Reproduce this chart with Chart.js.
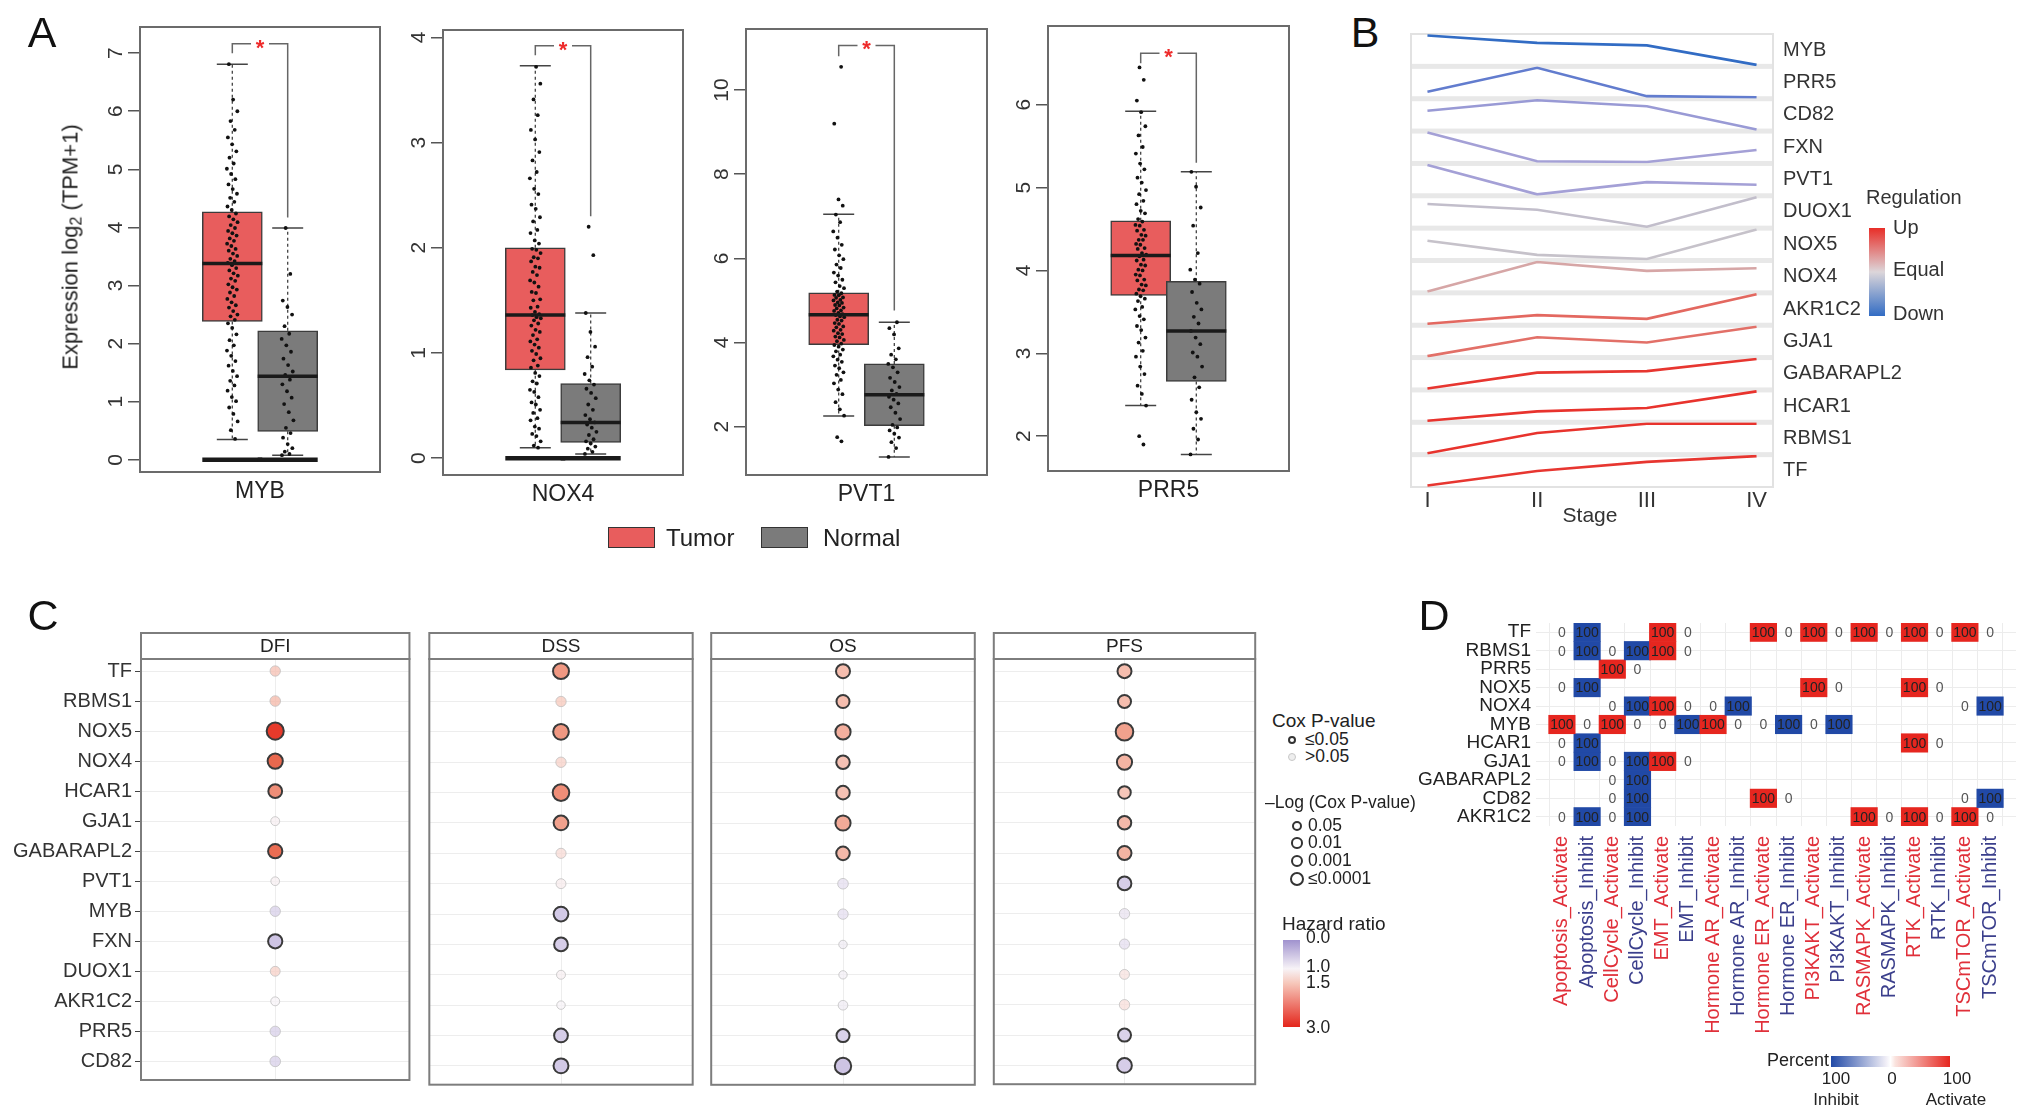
<!DOCTYPE html>
<html>
<head>
<meta charset="utf-8">
<title>Figure</title>
<script src="https://cdn.jsdelivr.net/npm/chart.js@4.4.1/dist/chart.umd.min.js"></script>
<style>
html,body{margin:0;padding:0;background:#fff;}
body{width:2032px;height:1119px;position:relative;overflow:hidden;font-family:"Liberation Sans",Arial,Helvetica,sans-serif;color:#222;}
canvas{position:absolute;display:block;}
.t{position:absolute;white-space:nowrap;line-height:1;}
.sw{position:absolute;box-sizing:border-box;}
</style>
</head>
<body>
<script>
// ================= DATA =================
// ---- Panel A: expression boxplots ----
const aGenes = ['MYB', 'NOX4', 'PVT1', 'PRR5'];
const aGroups = ['Tumor', 'Normal'];
// [whiskerLow, q1, median, q3, whiskerHigh]
const aTumorStats  = [[0.35, 2.38, 3.38, 4.27, 6.81], [0.10, 0.84, 1.36, 2.00, 3.73], [2.25, 3.95, 4.66, 5.18, 7.05], [2.37, 3.70, 4.18, 4.60, 5.92]];
const aNormalStats = [[0.08, 0.49, 1.44, 2.22, 3.99], [0.04, 0.15, 0.34, 0.71, 1.38], [1.28, 2.02, 2.76, 3.49, 4.48], [1.78, 2.66, 3.27, 3.87, 5.19]];
// significance bracket [top, left leg end, right leg end]
const aBracket = [[7.16, 7.0, 4.17], [3.92, 3.83, 2.30], [11.06, 10.8, 4.76], [6.62, 6.5, 5.3]];
const aZeroGenes = ['MYB', 'NOX4'];
const aYTicks = [[0, 1, 2, 3, 4, 5, 6, 7], [0, 1, 2, 3, 4], [2, 4, 6, 8, 10], [2, 3, 4, 5, 6]];
const aYRange = [[-0.21, 7.45], [-0.16, 4.07], [0.85, 11.45], [1.58, 6.95]];
const aMYB_T = [0.36,0.51,0.66,0.79,0.9,1.01,1.08,1.19,1.28,1.36,1.44,1.53,1.62,1.7,1.79,1.88,1.97,2.06,2.16,2.27,2.35,2.41,2.47,2.5,2.56,2.62,2.66,2.71,2.77,2.82,2.88,2.93,2.97,3.02,3.08,3.12,3.17,3.21,3.26,3.3,3.35,3.39,3.42,3.46,3.51,3.55,3.6,3.63,3.68,3.72,3.77,3.81,3.86,3.9,3.94,3.99,4.04,4.09,4.14,4.19,4.24,4.3,4.36,4.44,4.51,4.58,4.66,4.74,4.83,4.92,5.01,5.1,5.2,5.31,5.43,5.55,5.68,5.83,6.0,6.2,6.81];
const aMYB_N = [0.08,0.1,0.14,0.2,0.27,0.38,0.46,0.55,0.68,0.82,0.96,1.07,1.18,1.3,1.38,1.46,1.52,1.63,1.74,1.86,1.97,2.08,2.17,2.3,2.5,2.63,2.74,3.2,3.99];
const aNOX4_T = [0.1,0.12,0.16,0.21,0.23,0.28,0.3,0.36,0.38,0.43,0.46,0.51,0.53,0.58,0.63,0.65,0.71,0.73,0.78,0.81,0.86,0.88,0.93,0.95,0.99,1.02,1.05,1.08,1.11,1.13,1.17,1.2,1.22,1.26,1.28,1.31,1.33,1.34,1.36,1.37,1.39,1.43,1.44,1.5,1.51,1.57,1.58,1.63,1.67,1.69,1.74,1.77,1.81,1.82,1.87,1.9,1.91,1.95,1.98,1.99,2.04,2.07,2.14,2.17,2.25,2.29,2.37,2.41,2.51,2.56,2.66,2.72,2.83,2.91,3.03,3.12,3.26,3.41,3.56,3.72];
const aNOX4_N = [0.04,0.06,0.09,0.11,0.14,0.16,0.18,0.22,0.25,0.29,0.32,0.34,0.37,0.41,0.46,0.51,0.57,0.62,0.66,0.7,0.74,0.8,0.87,0.96,1.06,1.2,1.38,1.93,2.2];
const aPVT1_T = [1.65,1.75,2.26,2.41,2.58,2.77,2.88,3.03,3.11,3.23,3.29,3.39,3.45,3.54,3.59,3.67,3.71,3.79,3.83,3.9,3.94,3.97,4.03,4.06,4.12,4.14,4.2,4.22,4.28,4.3,4.36,4.38,4.44,4.46,4.52,4.54,4.6,4.62,4.65,4.67,4.7,4.75,4.76,4.81,4.83,4.88,4.89,4.94,4.95,5.0,5.01,5.06,5.07,5.12,5.13,5.17,5.21,5.29,5.34,5.43,5.49,5.59,5.66,5.77,5.85,5.98,6.07,6.21,6.32,6.49,6.64,6.86,7.04,7.25,7.4,9.2,10.55];
const aPVT1_N = [1.28,1.49,1.63,1.74,1.83,1.91,1.98,2.04,2.18,2.33,2.46,2.55,2.64,2.71,2.78,2.86,2.94,3.06,3.16,3.29,3.41,3.49,3.6,3.71,3.86,4.19,4.34,4.48];
const aPRR5_T = [1.9,2.0,2.37,2.51,2.61,2.75,2.84,2.96,3.03,3.13,3.19,3.28,3.33,3.41,3.45,3.53,3.56,3.63,3.66,3.69,3.72,3.76,3.77,3.82,3.83,3.88,3.89,3.94,3.95,4.0,4.01,4.06,4.07,4.12,4.13,4.17,4.19,4.21,4.26,4.27,4.31,4.32,4.37,4.37,4.42,4.43,4.48,4.49,4.54,4.55,4.59,4.62,4.69,4.72,4.8,4.84,4.92,4.97,5.06,5.12,5.22,5.29,5.41,5.49,5.63,5.74,5.91,6.05,6.3,6.45];
const aPRR5_N = [1.78,1.96,2.09,2.21,2.29,2.44,2.59,2.71,2.84,2.96,3.01,3.11,3.19,3.27,3.36,3.44,3.53,3.61,3.74,3.84,3.89,4.01,4.21,4.54,4.76,5.01,5.19];
const aTumorPts = [aMYB_T, aNOX4_T, aPVT1_T, aPRR5_T];
const aNormalPts = [aMYB_N, aNOX4_N, aPVT1_N, aPRR5_N];

// ---- Panel B: stage trends (relative level within each gene strip) ----
const bStages = ['I', 'II', 'III', 'IV'];
const bGenes = ['MYB','PRR5','CD82','FXN','PVT1','DUOX1','NOX5','NOX4','AKR1C2','GJA1','GABARAPL2','HCAR1','RBMS1','TF'];
const bMYB = [94.5, 72.4, 64.7, 6.3];
const bPRR5 = [23.6, 95.3, 10.4, 7.1];
const bCD82 = [62.9, 93.8, 76.2, 7.8];
const bFXN = [93.5, 8.6, 6.4, 41.7];
const bPVT1 = [94.3, 6.1, 42.5, 34.7];
const bDUOX1 = [73.0, 56.4, 6.8, 92.8];
const bNOX5 = [59.4, 18.6, 6.5, 91.4];
const bNOX4 = [4.0, 91.0, 64.6, 72.3];
const bAKR1C2 = [4.7, 30.1, 19.1, 91.9];
const bGJA1 = [4.4, 59.5, 44.1, 90.4];
const bGABARAPL2 = [3.0, 49.3, 53.7, 89.0];
const bHCAR1 = [2.6, 30.2, 40.1, 88.6];
const bRBMS1 = [2.3, 61.8, 89.4, 89.4];
const bTF = [3.1, 45.0, 71.5, 88.0];
const bRegulation = [-1, -0.75, -0.5, -0.45, -0.45, -0.05, 0.0, 0.3, 0.65, 0.6, 0.95, 0.97, 0.97, 0.95];

// ---- Panel C: survival bubbles ----
const cFacets = ['DFI', 'DSS', 'OS', 'PFS'];
const cGenes = ['TF','RBMS1','NOX5','NOX4','HCAR1','GJA1','GABARAPL2','PVT1','MYB','FXN','DUOX1','AKR1C2','PRR5','CD82'];
const cHR_DFI = [1.6, 1.7, 2.85, 2.5, 2.1, 1.05, 2.45, 1.05, 0.6, 0.5, 1.4, 1.0, 0.6, 0.6];
const cHR_DSS = [2.0, 1.5, 2.0, 1.4, 2.1, 1.9, 1.3, 1.1, 0.55, 0.6, 1.05, 1.0, 0.6, 0.55];
const cHR_OS  = [1.6, 1.6, 1.75, 1.55, 1.55, 1.8, 1.65, 0.75, 0.75, 0.9, 0.95, 0.9, 0.65, 0.5];
const cHR_PFS = [1.6, 1.6, 1.9, 1.7, 1.5, 1.65, 1.7, 0.6, 0.8, 0.75, 1.2, 1.25, 0.65, 0.6];
const cLogP_DFI = [1.0, 1.1, 3.8, 3.0, 2.4, 0.4, 2.6, 0.3, 1.0, 2.6, 0.8, 0.4, 1.0, 1.1];
const cLogP_DSS = [3.3, 1.0, 3.2, 1.0, 3.6, 2.8, 0.9, 0.8, 2.8, 2.4, 0.4, 0.2, 2.4, 2.9];
const cLogP_OS  = [2.5, 2.1, 3.0, 2.3, 2.3, 3.0, 2.3, 1.1, 1.0, 0.2, 0.15, 0.7, 2.1, 3.5];
const cLogP_PFS = [2.5, 2.1, 4.0, 3.0, 1.9, 2.3, 2.5, 2.4, 1.0, 0.9, 0.8, 1.0, 2.1, 2.8];

// ---- Panel D: pathway heatmap (percent; null = not shown) ----
const dRows = ['TF','RBMS1','PRR5','NOX5','NOX4','MYB','HCAR1','GJA1','GABARAPL2','CD82','AKR1C2'];
const dCols = ['Apoptosis_Activate','Apoptosis_Inhibit','CellCycle_Activate','CellCycle_Inhibit','EMT_Activate','EMT_Inhibit','Hormone AR_Activate','Hormone AR_Inhibit','Hormone ER_Activate','Hormone ER_Inhibit','PI3KAKT_Activate','PI3KAKT_Inhibit','RASMAPK_Activate','RASMAPK_Inhibit','RTK_Activate','RTK_Inhibit','TSCmTOR_Activate','TSCmTOR_Inhibit'];
const n = null;
const dTF        = [0,100,n,n,100,0,n,n,100,0,100,0,100,0,100,0,100,0];
const dRBMS1     = [0,100,0,100,100,0,n,n,n,n,n,n,n,n,n,n,n,n];
const dPRR5      = [n,n,100,0,n,n,n,n,n,n,n,n,n,n,n,n,n,n];
const dNOX5      = [0,100,n,n,n,n,n,n,n,n,100,0,n,n,100,0,n,n];
const dNOX4      = [n,n,0,100,100,0,0,100,n,n,n,n,n,n,n,n,0,100];
const dMYB       = [100,0,100,0,0,100,100,0,0,100,0,100,n,n,n,n,n,n];
const dHCAR1     = [0,100,n,n,n,n,n,n,n,n,n,n,n,n,100,0,n,n];
const dGJA1      = [0,100,0,100,100,0,n,n,n,n,n,n,n,n,n,n,n,n];
const dGABARAPL2 = [n,n,0,100,n,n,n,n,n,n,n,n,n,n,n,n,n,n];
const dCD82      = [n,n,0,100,n,n,n,n,100,0,n,n,n,n,n,n,0,100];
const dAKR1C2    = [0,100,0,100,n,n,n,n,n,n,n,n,100,0,100,0,100,0];
const dValues = [dTF, dRBMS1, dPRR5, dNOX5, dNOX4, dMYB, dHCAR1, dGJA1, dGABARAPL2, dCD82, dAKR1C2];

// ================= HELPERS =================
Chart.defaults.font.family = '"Liberation Sans", Arial, Helvetica, sans-serif';
Chart.defaults.color = '#333';
Chart.defaults.animation = false;
Chart.defaults.responsive = false;
Chart.defaults.plugins.legend.display = false;
Chart.defaults.plugins.tooltip.enabled = false;
const FONT = '"Liberation Sans", Arial, Helvetica, sans-serif';

function mkCanvas(l, t, w, h) {
  const c = document.createElement('canvas');
  c.width = w; c.height = h;
  c.style.left = l + 'px'; c.style.top = t + 'px';
  c.style.width = w + 'px'; c.style.height = h + 'px';
  document.body.appendChild(c);
  return c;
}
function txt(s, x, y, size, align, color, extra) {
  const d = document.createElement('div');
  d.className = 't';
  d.innerHTML = s;
  d.style.fontSize = size + 'px';
  d.style.left = x + 'px';
  d.style.top = y + 'px';
  d.style.color = color || '#222';
  const tx = align === 'c' ? '-50%' : align === 'r' ? '-100%' : '0';
  d.style.transform = 'translate(' + tx + ',-50%)' + (extra || '');
  document.body.appendChild(d);
  return d;
}
function sw(x, y, w, h, css) {
  const d = document.createElement('div');
  d.className = 'sw';
  d.style.left = x + 'px'; d.style.top = y + 'px';
  d.style.width = w + 'px'; d.style.height = h + 'px';
  d.style.cssText += css;
  document.body.appendChild(d);
  return d;
}
function lerp(a, b, t) { return a.map((v, i) => Math.round(v + (b[i] - v) * t)); }
function ramp(stops, v, a) {
  v = Math.max(stops[0][0], Math.min(stops[stops.length - 1][0], v));
  let i = 0;
  while (i < stops.length - 2 && v > stops[i + 1][0]) i++;
  const [v0, c0] = stops[i], [v1, c1] = stops[i + 1];
  const c = lerp(c0, c1, (v - v0) / (v1 - v0));
  return 'rgba(' + c.join(',') + ',' + (a == null ? 1 : a) + ')';
}
const REG_STOPS = [[-1, [50, 108, 196]], [-0.75, [98, 124, 206]], [-0.45, [164, 160, 214]], [0, [198, 194, 202]], [0.3, [214, 166, 166]], [0.6, [226, 112, 104]], [1, [232, 46, 40]]];
function regColor(s) { return ramp(REG_STOPS, s); }
const HR_STOPS = [[0, [160, 146, 206]], [0.5, [206, 196, 228]], [1, [247, 243, 247]], [1.5, [246, 198, 185]], [2, [240, 152, 130]], [2.5, [233, 104, 78]], [3, [228, 38, 28]]];
function hrColor(h, a) { return ramp(HR_STOPS, h, a); }

// ================= PANEL A =================
const A_BOX = [[140, 27, 380, 472], [443, 30, 683, 475], [746, 29, 987, 475], [1048, 26, 1289, 471]];
const TUMOR_FILL = '#e85d5d', NORMAL_FILL = '#7b7b7b';
const BOX_HALF = 30, CAP_HALF = 15.5;
aGenes.forEach((gene, i) => {
  const [bl, bt, br, bb] = A_BOX[i];
  const H = 520, W = br - bl + 110;
  const cv = mkCanvas(bl - 100, 0, W, H);
  const ts = aTumorStats[i], ns = aNormalStats[i];
  const jit = (k, s, w) => ((((k + 1) * 0.6180339887 + s) % 1) - 0.5) * w;
  const pts = aTumorPts[i].map((v, k) => ({x: 1 + jit(k, 0.13, 0.2), y: v}))
    .concat(aNormalPts[i].map((v, k) => ({x: 2 + jit(k, 0.41, 0.22), y: v})));
  const boxes = [[1, ts], [2, ns]];
  new Chart(cv, {
    type: 'scatter',
    data: {datasets: [
      {type: 'scatter', data: pts, pointRadius: 1.9, pointHoverRadius: 1.9, pointBackgroundColor: '#111', pointBorderWidth: 0, order: 0},
      {type: 'bar', data: boxes.map(([x, s]) => ({x: x, y: [s[1], s[3]]})), backgroundColor: [TUMOR_FILL, NORMAL_FILL], borderColor: '#3c3c3c', borderWidth: 1.5, borderSkipped: false, barThickness: 60, grouped: false, order: 1}
    ]},
    options: {
      layout: {padding: {left: 0, right: 10, top: bt, bottom: H - bb}},
      scales: {
        x: {type: 'linear', min: -0.125, max: 3.125, display: false},
        y: {type: 'linear', min: aYRange[i][0], max: aYRange[i][1],
            afterBuildTicks: s => { s.ticks = aYTicks[i].map(v => ({value: v})); },
            ticks: {display: false},
            grid: {drawOnChartArea: false, drawTicks: true, tickLength: 12, tickColor: '#555', lineWidth: 1.5},
            border: {display: false},
            afterFit: s => { s.width = 100; }}
      }
    },
    plugins: [{
      id: 'boxA' + i,
      beforeDatasetsDraw(chart) {
        const xs = chart.scales.x, ys = chart.scales.y, ctx = chart.ctx;
        ctx.save();
        boxes.forEach(([xv, st]) => {
          const x = xs.getPixelForValue(xv);
          ctx.strokeStyle = '#444'; ctx.lineWidth = 1.3; ctx.setLineDash([3, 3]);
          ctx.beginPath();
          ctx.moveTo(x, ys.getPixelForValue(st[3])); ctx.lineTo(x, ys.getPixelForValue(st[4]));
          ctx.moveTo(x, ys.getPixelForValue(st[1])); ctx.lineTo(x, ys.getPixelForValue(st[0]));
          ctx.stroke();
          ctx.setLineDash([]); ctx.lineWidth = 1.5;
          ctx.beginPath();
          [st[0], st[4]].forEach(v => { const y = ys.getPixelForValue(v); ctx.moveTo(x - CAP_HALF, y); ctx.lineTo(x + CAP_HALF, y); });
          ctx.stroke();
        });
        ctx.restore();
      },
      afterDatasetsDraw(chart) {
        const xs = chart.scales.x, ys = chart.scales.y, ctx = chart.ctx;
        ctx.save();
        ctx.strokeStyle = '#1a1a1a';
        boxes.forEach(([xv, st]) => {
          const x = xs.getPixelForValue(xv);
          ctx.lineWidth = 3.5;
          ctx.beginPath();
          const ym = ys.getPixelForValue(st[2]);
          ctx.moveTo(x - BOX_HALF, ym); ctx.lineTo(x + BOX_HALF, ym);
          ctx.stroke();
          if (aZeroGenes.includes(gene)) {
            ctx.lineWidth = 4.5;
            const y0 = ys.getPixelForValue(0);
            ctx.beginPath(); ctx.moveTo(x - BOX_HALF, y0); ctx.lineTo(x + BOX_HALF, y0); ctx.stroke();
          }
        });
        ctx.restore();
      },
      afterDraw(chart) {
        const xs = chart.scales.x, ys = chart.scales.y, ctx = chart.ctx, a = chart.chartArea;
        ctx.save();
        ctx.strokeStyle = '#6b6b6b'; ctx.lineWidth = 2;
        ctx.strokeRect(a.left, a.top, a.right - a.left, a.bottom - a.top);
        ctx.fillStyle = '#333'; ctx.font = '21px ' + FONT;
        ctx.textAlign = 'center'; ctx.textBaseline = 'middle';
        aYTicks[i].forEach(v => {
          const y = ys.getPixelForValue(v);
          ctx.save(); ctx.translate(a.left - 25, y); ctx.rotate(-Math.PI / 2); ctx.fillText(String(v), 0, 1); ctx.restore();
        });
        ctx.fillStyle = '#222'; ctx.font = '23px ' + FONT;
        ctx.fillText(gene, (a.left + a.right) / 2, a.bottom + 20);
        // significance bracket
        const [top, lEnd, rEnd] = aBracket[i];
        const x1 = xs.getPixelForValue(1), x2 = xs.getPixelForValue(2), yt = ys.getPixelForValue(top);
        const mid = (x1 + x2) / 2;
        ctx.strokeStyle = '#666'; ctx.lineWidth = 1.5;
        ctx.beginPath();
        ctx.moveTo(x1, ys.getPixelForValue(lEnd)); ctx.lineTo(x1, yt); ctx.lineTo(mid - 9, yt);
        ctx.moveTo(mid + 9, yt); ctx.lineTo(x2, yt); ctx.lineTo(x2, ys.getPixelForValue(rEnd));
        ctx.stroke();
        ctx.fillStyle = '#ee2a2a'; ctx.font = 'bold 22px ' + FONT;
        ctx.fillText('*', mid, yt + 5);
        ctx.restore();
      }
    }]
  });
});
txt('Expression log<sub style="font-size:16px;vertical-align:-4px">2</sub> (TPM+1)', 72, 247, 22, 'c', '#222', ' rotate(-90deg)');
sw(608, 527, 47, 21, 'background:' + TUMOR_FILL + ';border:1.5px solid #333;');
txt(aGroups[0], 666, 538, 24, 'l', '#222');
sw(761, 527, 47, 21, 'background:' + NORMAL_FILL + ';border:1.5px solid #333;');
txt(aGroups[1], 823, 538, 24, 'l', '#222');

// ================= PANEL B =================
(function () {
  const bData = [bMYB, bPRR5, bCD82, bFXN, bPVT1, bDUOX1, bNOX5, bNOX4, bAKR1C2, bGJA1, bGABARAPL2, bHCAR1, bRBMS1, bTF];
  const L = 1400, T = 20, W = 632, H = 520;
  const cv = mkCanvas(L, T, W, H);
  const scales = {
    x: {type: 'linear', min: 0.85, max: 4.15,
        afterBuildTicks: s => { s.ticks = bStages.map((st, j) => ({value: j + 1})); },
        ticks: {autoSkip: false, callback: v => bStages[v - 1], font: {size: 22}, color: '#333', padding: 1},
        grid: {display: false, drawTicks: false}, border: {display: false},
        afterFit: s => { s.height = 53; }}
  };
  bGenes.forEach((g, k) => {
    const d = bData[k], lo = Math.min(...d), hi = Math.max(...d), r = hi - lo;
    scales['g' + k] = {type: 'linear', axis: 'y', position: 'right', stack: 'genes', stackWeight: 1,
      min: lo - 0.05 * r, max: hi + 0.05 * r,
      ticks: {display: false}, grid: {display: false, drawTicks: false}, border: {display: false},
      afterFit: s => { s.width = 0; }};
  });
  new Chart(cv, {
    type: 'line',
    data: {datasets: bGenes.map((g, k) => ({
      label: g, data: bData[k].map((v, j) => ({x: j + 1, y: v})), xAxisID: 'x', yAxisID: 'g' + k,
      borderColor: regColor(bRegulation[k]), borderWidth: 2.6, pointRadius: 0, fill: false, tension: 0
    }))},
    options: {
      layout: {padding: {left: 11, top: 14, right: 259, bottom: 0}},
      scales: scales
    },
    plugins: [{
      id: 'stripsB',
      beforeDatasetsDraw(chart) {
        const {ctx, chartArea: a} = chart;
        ctx.save();
        ctx.fillStyle = '#e8e8e8';
        for (let k = 1; k < bGenes.length; k++) {
          const y = chart.scales['g' + k].top;
          ctx.fillRect(a.left, y - 2.5, a.right - a.left, 5);
        }
        ctx.strokeStyle = '#e2e2e2'; ctx.lineWidth = 2;
        ctx.strokeRect(a.left, a.top, a.right - a.left, a.bottom - a.top);
        ctx.restore();
      },
      afterDraw(chart) {
        const {ctx, chartArea: a} = chart;
        ctx.save();
        ctx.fillStyle = '#333'; ctx.font = '20px ' + FONT; ctx.textAlign = 'left'; ctx.textBaseline = 'middle';
        bGenes.forEach((g, k) => {
          const s = chart.scales['g' + k];
          ctx.fillText(g, a.right + 10, (s.top + s.bottom) / 2);
        });
        ctx.textAlign = 'center'; ctx.font = '21px ' + FONT;
        ctx.fillText('Stage', 1590 - L, 516 - T);
        // Regulation legend
        ctx.textAlign = 'left'; ctx.font = '20px ' + FONT;
        ctx.fillText('Regulation', 1866 - L, 198 - T);
        const gy0 = 228 - T, gy1 = 316 - T;
        const gr = ctx.createLinearGradient(0, gy0, 0, gy1);
        gr.addColorStop(0, regColor(1)); gr.addColorStop(0.5, '#dcd6da'); gr.addColorStop(1, regColor(-1));
        ctx.fillStyle = gr; ctx.fillRect(1869 - L, gy0, 16, gy1 - gy0);
        ctx.fillStyle = '#333';
        ctx.fillText('Up', 1893 - L, 228 - T);
        ctx.fillText('Equal', 1893 - L, 270 - T);
        ctx.fillText('Down', 1893 - L, 314 - T);
        ctx.restore();
      }
    }]
  });
})();

// ================= PANEL C =================
(function () {
  const C_X = [[141, 416], [423, 699], [705, 981], [987, 1262]];
  const cHR = [cHR_DFI, cHR_DSS, cHR_OS, cHR_PFS];
  const cLogP = [cLogP_DFI, cLogP_DSS, cLogP_OS, cLogP_PFS];
  const T = 625, H = 470, PANEL_TOP = 659, PANEL_BOT = 1087;
  const rad = v => 4 + 1.2 * Math.min(v, 4);
  cFacets.forEach((f, fi) => {
    const [x0, x1] = C_X[fi];
    const first = fi === 0;
    const cl = first ? 0 : x0 - 4;
    const W = x1 - cl + 4;
    const cv = mkCanvas(cl, T, W, H);
    const hr = cHR[fi], lp = cLogP[fi];
    new Chart(cv, {
      type: 'scatter',
      data: {datasets: [{
        data: cGenes.map((g, k) => ({x: 1, y: k})),
        pointRadius: lp.map(rad), pointHoverRadius: lp.map(rad),
        pointBackgroundColor: hr.map((h, k) => hrColor(h, lp[k] >= 1.3 ? 1 : 0.72)),
        pointBorderColor: lp.map(v => v >= 1.3 ? '#3a3a3a' : 'rgba(190,190,190,0.75)'),
        pointBorderWidth: lp.map(v => v >= 1.3 ? 2 : 1)
      }]},
      options: {
        layout: {padding: {left: first ? 0 : 4, right: 4, top: PANEL_TOP - T, bottom: T + H - PANEL_BOT}},
        scales: {
          x: {type: 'linear', min: 0, max: 2, afterBuildTicks: s => { s.ticks = [{value: 1}]; },
              ticks: {display: false}, grid: {color: '#ededed', drawTicks: false}, border: {display: false},
              afterFit: s => { s.height = 0; }},
          y: {type: 'linear', reverse: true, min: -0.4, max: 13.62,
              afterBuildTicks: s => { s.ticks = cGenes.map((g, k) => ({value: k})); },
              ticks: {display: first, autoSkip: false, callback: v => cGenes[v], font: {size: 20}, color: '#333', padding: 3},
              grid: {color: '#ededed', drawTicks: first, tickLength: 6, tickColor: '#444'},
              border: {display: false},
              afterFit: s => { s.width = first ? x0 : 0; }}
        }
      },
      plugins: [{
        id: 'facetC' + fi,
        afterDraw(chart) {
          const {ctx, chartArea: a} = chart;
          ctx.save();
          ctx.strokeStyle = '#7d7d7d'; ctx.lineWidth = 2;
          ctx.strokeRect(a.left, 8, a.right - a.left, a.top - 8);
          ctx.strokeRect(a.left, a.top, a.right - a.left, a.bottom - a.top);
          ctx.fillStyle = '#222'; ctx.font = '19px ' + FONT; ctx.textAlign = 'center'; ctx.textBaseline = 'middle';
          ctx.fillText(f, (a.left + a.right) / 2, (8 + a.top) / 2 + 1);
          ctx.restore();
        }
      }]
    });
  });
  // legends
  txt('Cox P-value', 1272, 720, 19, 'l');
  sw(1288, 736, 8, 8, 'border-radius:50%;border:2px solid #333;background:#fff;');
  txt('&le;0.05', 1305, 740, 17.5, 'l');
  sw(1288, 753, 8, 8, 'border-radius:50%;border:1px solid #c8c8c8;background:#eee;');
  txt('&gt;0.05', 1305, 757, 17.5, 'l');
  txt('&ndash;Log (Cox P-value)', 1265, 803, 17.5, 'l');
  [['0.05', 826, 10], ['0.01', 843, 11.5], ['0.001', 861, 12.5], ['&le;0.0001', 879, 14.5]].forEach(([s, y, d]) => {
    sw(1297 - d / 2, y - d / 2, d, d, 'border-radius:50%;border:2px solid #333;background:#fff;');
    txt(s, 1308, y, 17.5, 'l');
  });
  txt('Hazard ratio', 1282, 923, 19, 'l');
  sw(1283, 940, 17, 87, 'background:linear-gradient(to bottom,' + hrColor(0) + ' 0%,' + hrColor(1) + ' 33%,' + hrColor(1.5) + ' 50%,' + hrColor(3) + ' 100%);');
  [['0.0', 938], ['1.0', 967], ['1.5', 983], ['3.0', 1028]].forEach(([s, y]) => txt(s, 1306, y, 17.5, 'l'));
})();

// ================= PANEL D =================
(function () {
  const L = 1400, T = 600, W = 632, H = 519;
  const D_RED = '#e6261f', D_BLUE = '#2149a6', LAB_RED = '#e0303a', LAB_BLUE = '#3b3f8c';
  const isAct = j => dCols[j].endsWith('Activate');
  const cv = mkCanvas(L, T, W, H);
  new Chart(cv, {
    type: 'bar',
    data: {datasets: dRows.map((g, r) => ({
      label: g,
      data: dValues[r].map((v, j) => v == null ? null : {x: j, y: [r - 0.5, r + 0.5], v: v}).filter(Boolean),
      backgroundColor: c => (c.raw && c.raw.v === 100) ? (isAct(c.raw.x) ? D_RED : D_BLUE) : 'rgba(0,0,0,0)',
      borderWidth: 0, barThickness: 26.5, grouped: false
    }))},
    options: {
      layout: {padding: {left: 0, right: 16, top: 23, bottom: 0}},
      scales: {
        x: {type: 'linear', min: -0.5, max: 17.5,
            afterBuildTicks: s => { s.ticks = dCols.map((c, j) => ({value: j})); },
            ticks: {autoSkip: false, minRotation: 90, maxRotation: 90, callback: v => dCols[v], font: {size: 20},
                    color: c => (dCols[c.index] && isAct(c.index)) ? LAB_RED : LAB_BLUE, padding: 10},
            grid: {color: '#ececec', drawTicks: false}, border: {display: false},
            afterFit: s => { s.height = H - 226; }},
        y: {type: 'linear', reverse: true, min: -0.5, max: 10.5,
            afterBuildTicks: s => { s.ticks = dRows.map((g, r) => ({value: r})); },
            ticks: {autoSkip: false, callback: v => dRows[v], font: {size: 19}, color: '#222', padding: 5},
            grid: {color: '#ececec', drawTicks: false}, border: {display: false},
            afterFit: s => { s.width = 136; }}
      }
    },
    plugins: [{
      id: 'dText',
      afterDatasetsDraw(chart) {
        const ctx = chart.ctx;
        ctx.save();
        ctx.font = '14px ' + FONT; ctx.textAlign = 'center'; ctx.textBaseline = 'middle';
        chart.data.datasets.forEach((ds, di) => {
          chart.getDatasetMeta(di).data.forEach((el, k) => {
            const raw = ds.data[k];
            ctx.fillStyle = raw.v === 100 ? '#222' : '#555';
            ctx.fillText(String(raw.v), el.x, (el.y + el.base) / 2 + 1);
          });
        });
        ctx.restore();
      }
    }]
  });
  txt('Percent', 1829, 1060, 18, 'r');
  sw(1831, 1056, 119, 11, 'background:linear-gradient(to right,' + D_BLUE + ' 0%,#efedf6 46%,#ffffff 50%,#fae3de 54%,' + D_RED + ' 100%);');
  txt('100', 1836, 1078, 17, 'c'); txt('0', 1892, 1078, 17, 'c'); txt('100', 1957, 1078, 17, 'c');
  txt('Inhibit', 1836, 1099, 17, 'c'); txt('Activate', 1956, 1099, 17, 'c');
})();

// ================= PANEL LETTERS =================
txt('A', 42, 32, 43, 'c', '#111');
txt('B', 1365, 32, 43, 'c', '#111');
txt('C', 43, 615, 43, 'c', '#111');
txt('D', 1434, 615, 43, 'c', '#111');
</script>
</body>
</html>
